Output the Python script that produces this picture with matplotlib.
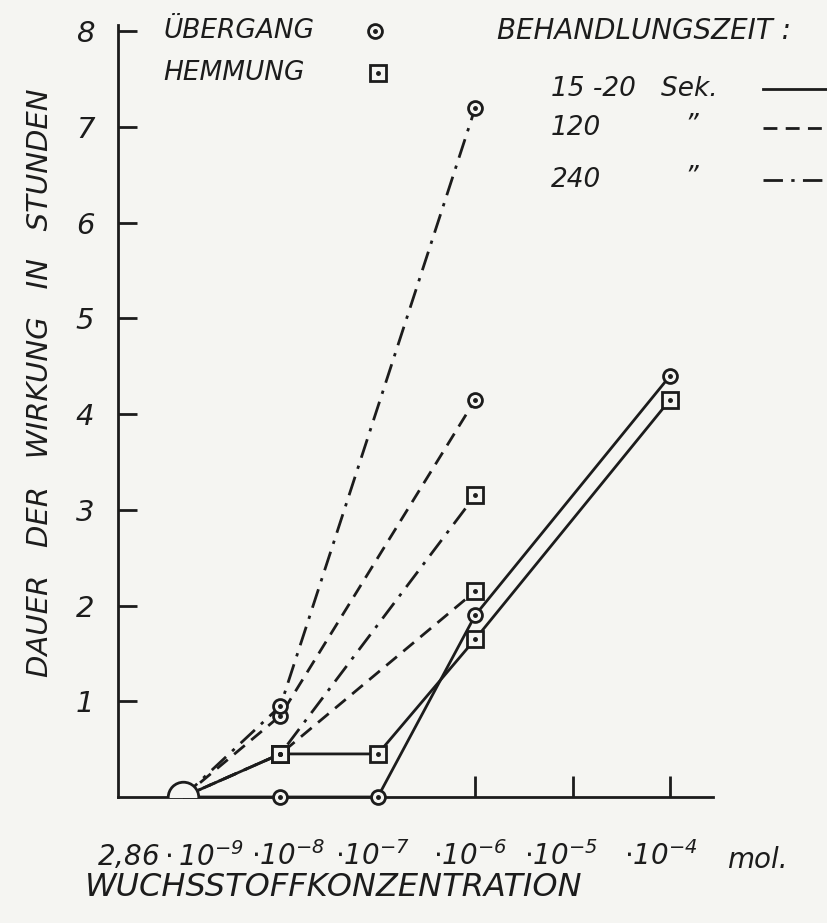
import numpy as np
import matplotlib.pyplot as plt
from matplotlib.transforms import blended_transform_factory

# ---------------- DATA ----------------
conc_labels = [r"$2{,}86\cdot10^{-9}$", r"$\cdot10^{-8}$", r"$\cdot10^{-7}$",
               r"$\cdot10^{-6}$", r"$\cdot10^{-5}$", r"$\cdot10^{-4}$"]
conc_pos = [0, 1, 2, 3, 4, 5]

# 15-20 Sek. (solid)
x_15 = [0, 1, 2, 3, 5]
uber_15 = [0, 0, 0, 1.9, 4.4]
hemm_15 = [0, 0.45, 0.45, 1.65, 4.15]

# 120 Sek. (dashed)
x_120 = [0, 1, 3]
uber_120 = [0, 0.85, 4.15]
hemm_120 = [0, 0.45, 2.15]

# 240 Sek. (dash-dot)
x_240 = [0, 1, 3]
uber_240 = [0, 0.95, 7.2]
hemm_240 = [0, 0.45, 3.15]

y_ticks = [1, 2, 3, 4, 5, 6, 7, 8]

# ---------------- STYLE ----------------
plt.rcParams["font.family"] = ["DejaVu Sans"]
plt.rcParams["font.style"] = "italic"
plt.rcParams["mathtext.fontset"] = "custom"
plt.rcParams["mathtext.rm"] = "DejaVu Sans:italic"
plt.rcParams["mathtext.it"] = "DejaVu Sans:italic"
plt.rcParams["mathtext.default"] = "it"

ink = "#1c1c1c"
paper = "#f5f5f2"
lw = 2.0
dash = (0, (5, 3))
dashdot = (0, (7, 3, 1.2, 3))

fig = plt.figure(figsize=(8.28, 9.23), dpi=100, facecolor=paper)
ax = fig.add_axes([0.1425, 0.1365, 0.7186, 0.836])
ax.set_facecolor(paper)

ax.set_xlim(-0.667, 5.44)
ax.set_ylim(0, 8.06)

# ---------------- LINES ----------------
series = [
    (x_15, uber_15, "solid", "o"),
    (x_15, hemm_15, "solid", "s"),
    (x_120, uber_120, dash, "o"),
    (x_120, hemm_120, dash, "s"),
    (x_240, uber_240, dashdot, "o"),
    (x_240, hemm_240, dashdot, "s"),
]

for xs, ys, ls, mk in series:
    ax.plot(xs, ys, color=ink, linewidth=lw, linestyle=ls, clip_on=False,
            zorder=2, solid_capstyle="butt", dash_capstyle="butt")
    ms = 10 if mk == "o" else 12
    ax.plot(xs[1:], ys[1:], linestyle="none", marker=mk, markersize=ms,
            markerfacecolor=paper, markeredgecolor=ink, markeredgewidth=2,
            clip_on=False, zorder=4)
    ax.plot(xs[1:], ys[1:], linestyle="none", marker="o", markersize=2.5,
            color=ink, clip_on=False, zorder=5)

# half circle at origin
ax.plot([conc_pos[0]], [0], marker="o", markersize=22, markerfacecolor=paper,
        markeredgecolor=ink, markeredgewidth=2, zorder=6, clip_on=True)

# ---------------- AXES ----------------
for s in ["top", "right"]:
    ax.spines[s].set_visible(False)
ax.spines["left"].set_linewidth(2)
ax.spines["bottom"].set_linewidth(2)
ax.spines["left"].set_color(ink)
ax.spines["bottom"].set_color(ink)

ax.set_yticks(y_ticks)
ax.set_yticklabels([str(v) for v in y_ticks], fontsize=21, color=ink)
ax.tick_params(axis="y", direction="in", length=14, width=2, pad=17, colors=ink)

ax.set_xticks(conc_pos[3:])
ax.set_xticklabels([])
ax.tick_params(axis="x", direction="in", length=15, width=2, colors=ink)

trans = blended_transform_factory(ax.transData, fig.transFigure)
label_x = [-0.13, 1.08, 1.94, 2.95, 3.88, 4.9]
for lx, lab in zip(label_x, conc_labels):
    ax.text(lx, 0.073, lab, transform=trans, fontsize=20, ha="center",
            va="center", color=ink)
fig.text(0.915, 0.068, "mol.", fontsize=20, ha="center", va="center", color=ink)
fig.text(0.103, 0.038, "WUCHSSTOFFKONZENTRATION", fontsize=23, ha="left",
         va="center", color=ink)

fig.text(0.048, 0.585, "DAUER   DER   WIRKUNG   IN   STUNDEN", rotation=90,
         fontsize=21, ha="center", va="center", color=ink)

# ---------------- LEGEND ----------------
fig.text(0.197, 0.966, "ÜBERGANG", fontsize=19, va="center", color=ink)
fig.text(0.197, 0.921, "HEMMUNG", fontsize=19, va="center", color=ink)
fig.text(0.6, 0.966, "BEHANDLUNGSZEIT :", fontsize=20, va="center", color=ink)

fig.lines.append(plt.Line2D([0.453], [0.966], marker="o", markersize=10,
                            markerfacecolor=paper, markeredgecolor=ink,
                            markeredgewidth=2, transform=fig.transFigure))
fig.lines.append(plt.Line2D([0.453], [0.966], marker="o", markersize=2.5,
                            color=ink, transform=fig.transFigure))
fig.lines.append(plt.Line2D([0.456], [0.921], marker="s", markersize=12,
                            markerfacecolor=paper, markeredgecolor=ink,
                            markeredgewidth=2, transform=fig.transFigure))
fig.lines.append(plt.Line2D([0.456], [0.921], marker="o", markersize=2.5,
                            color=ink, transform=fig.transFigure))

leg_rows = [("15 -20   Sek.", "", "solid", 0.904),
            ("120", "\u201d", dash, 0.861),
            ("240", "\u201d", dashdot, 0.805)]
for name, ditto, ls, yy in leg_rows:
    fig.text(0.665, yy, name, fontsize=19, va="center", color=ink)
    if ditto:
        fig.text(0.827, yy + 0.003, ditto, fontsize=19, va="center", color=ink)
    fig.lines.append(plt.Line2D([0.922, 1.0], [yy, yy], color=ink,
                                linewidth=lw, linestyle=ls,
                                transform=fig.transFigure))

fig.savefig("out.png", dpi=100, facecolor=paper)
